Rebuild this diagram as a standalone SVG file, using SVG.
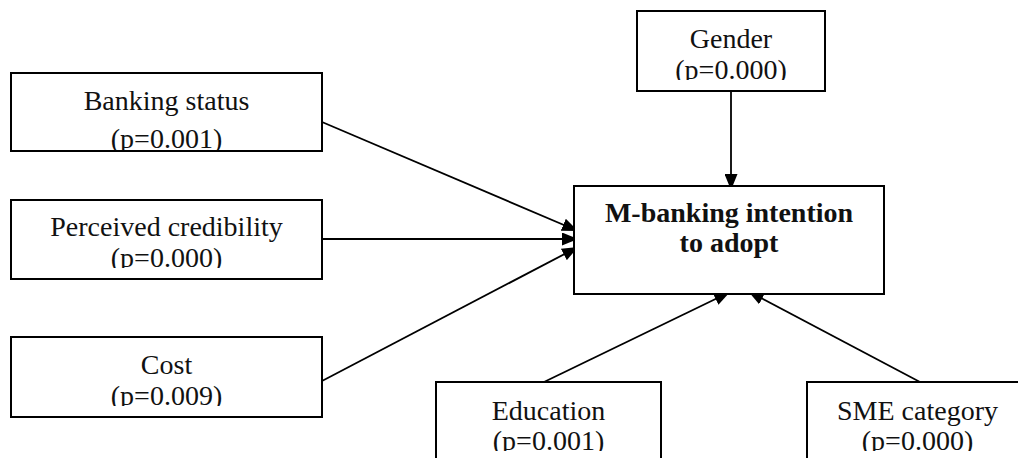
<svg xmlns="http://www.w3.org/2000/svg" width="1018" height="458" viewBox="0 0 1018 458">
  <style>
    .box { fill: #ffffff; stroke: #000000; stroke-width: 2; }
    .lbl { font-family: "Liberation Serif", "Times New Roman", serif; font-size: 28px; fill: #111111; text-anchor: middle; }
    .bold { font-weight: bold; }
    .conn { stroke: #000000; stroke-width: 1.8; fill: none; marker-end: url(#arrow); }
  </style>
  <defs>
    <marker id="arrow" viewBox="0 0 16 13" refX="16" refY="6.5" markerWidth="16" markerHeight="13" markerUnits="userSpaceOnUse" orient="auto">
      <path d="M0,0 L16,6.5 L0,13 Z" fill="#000000"/>
    </marker>
    <clipPath id="clipBanking"><rect x="0" y="0" width="1018" height="150"/></clipPath>
    <clipPath id="clipPerceived"><rect x="0" y="0" width="1018" height="268"/></clipPath>
    <clipPath id="clipCost"><rect x="0" y="0" width="1018" height="406"/></clipPath>
    <clipPath id="clipGender"><rect x="0" y="0" width="1018" height="80"/></clipPath>
    <clipPath id="clipBottom"><rect x="0" y="0" width="1018" height="451"/></clipPath>
  </defs>
  <rect x="0" y="0" width="1018" height="458" fill="#ffffff"/>

  <g id="connectors">
    <line class="conn" x1="322" y1="122" x2="578" y2="231"/>
    <line class="conn" x1="322" y1="239" x2="578" y2="239"/>
    <line class="conn" x1="322" y1="381" x2="578" y2="247"/>
    <line class="conn" x1="731" y1="91" x2="731" y2="190"/>
    <line class="conn" x1="544" y1="382" x2="730" y2="292"/>
    <line class="conn" x1="920" y1="382" x2="748" y2="291"/>
  </g>

  <g id="node-banking">
    <rect class="box" x="11" y="73" width="311" height="78"/>
    <g clip-path="url(#clipBanking)">
      <text class="lbl" x="166.5" y="110">Banking status</text>
      <text class="lbl" x="166.5" y="148">(p=0.001)</text>
    </g>
  </g>

  <g id="node-perceived">
    <rect class="box" x="11" y="200" width="311" height="79"/>
    <g clip-path="url(#clipPerceived)">
      <text class="lbl" x="166.5" y="236">Perceived credibility</text>
      <text class="lbl" x="166.5" y="267">(p=0.000)</text>
    </g>
  </g>

  <g id="node-cost">
    <rect class="box" x="11" y="337" width="311" height="80"/>
    <g clip-path="url(#clipCost)">
      <text class="lbl" x="166.5" y="374">Cost</text>
      <text class="lbl" x="166.5" y="405">(p=0.009)</text>
    </g>
  </g>

  <g id="node-gender">
    <rect class="box" x="637" y="11" width="188" height="80"/>
    <g clip-path="url(#clipGender)">
      <text class="lbl" x="731" y="48">Gender</text>
      <text class="lbl" x="731" y="79">(p=0.000)</text>
    </g>
  </g>

  <g id="node-intention">
    <rect class="box" x="574" y="186" width="310" height="108"/>
    <text class="lbl bold" x="729" y="222">M-banking intention</text>
    <text class="lbl bold" x="729" y="252">to adopt</text>
  </g>

  <g id="node-education">
    <rect class="box" x="436" y="382" width="225" height="90"/>
    <g clip-path="url(#clipBottom)">
      <text class="lbl" x="548.5" y="420">Education</text>
      <text class="lbl" x="548.5" y="450">(p=0.001)</text>
    </g>
  </g>

  <g id="node-sme">
    <rect class="box" x="807" y="382" width="221" height="90"/>
    <g clip-path="url(#clipBottom)">
      <text class="lbl" x="917.5" y="420">SME category</text>
      <text class="lbl" x="917.5" y="450">(p=0.000)</text>
    </g>
  </g>
</svg>
